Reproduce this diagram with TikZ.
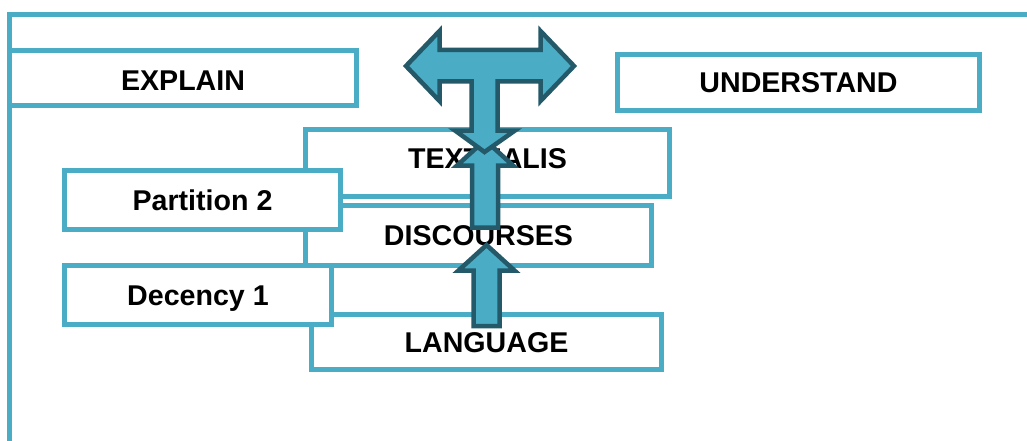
\documentclass[tikz,border=0pt]{standalone}
\usepackage{fontspec}
\setmainfont{Liberation Sans}
\definecolor{boxblue}{RGB}{75,172,198}
\definecolor{arrowdark}{RGB}{35,89,104}
\tikzset{
    conceptbox/.style={draw=boxblue, line width=5pt, fill=white, inner sep=0pt,
        font=\bfseries\fontsize{28.6}{34}\selectfont, text height=20pt, text depth=0pt},
    blockarrow/.style={draw=arrowdark, fill=boxblue, line width=4.5pt, line join=miter},
}
% block arrow pointing up, from #1 (bottom) to #2 (tip)
\newcommand{\blockup}[2]{
    \draw[blockarrow] ([xshift=-13pt]#1) -- ([xshift=-13pt,yshift=-25.5pt]#2)
        -- ([xshift=-28pt,yshift=-25.5pt]#2) -- (#2)
        -- ([xshift=28pt,yshift=-25.5pt]#2) -- ([xshift=13pt,yshift=-25.5pt]#2)
        -- ([xshift=13pt]#1) -- cycle;
}

\begin{document}
\begin{tikzpicture}[x=1pt, y=-1pt]
    \useasboundingbox (0,0) rectangle (1027,441);

    % frame
    \draw[boxblue, line width=5pt] (1040,14.5) -- (9.5,14.5) -- (9.5,450);

    % boxes
    \node[conceptbox, minimum width=347pt, minimum height=54.5pt, text height=24.5pt] (explain) at (183,78.25) {EXPLAIN};
    \node[conceptbox, minimum width=362pt, minimum height=56.5pt] (understand) at (798.5,82.75) {UNDERSTAND};
    \node[conceptbox, minimum width=364pt, minimum height=67pt, text depth=9pt] (textualis) at (487.5,162.5) {TEXTUALIS};
    \node[conceptbox, minimum width=346pt, minimum height=60pt] (discourses) at (478.5,235.5) {DISCOURSES};
    \node[conceptbox, minimum width=350pt, minimum height=55pt] (language) at (486.5,342) {LANGUAGE};
    \node[conceptbox, minimum width=276pt, minimum height=59pt] (partition) at (202.5,200) {Partition 2};
    \node[conceptbox, minimum width=267pt, minimum height=59pt] (decency) at (198,295) {Decency 1};

    % arrow ends
    \coordinate (discBot) at (485,227.5);
    \coordinate (textTip) at (485,140);
    \coordinate (langBot) at (486.5,326);
    \coordinate (discTip) at (486.5,245);
    \coordinate (downTip) at (484.5,152);

    % up arrows
    \blockup{discBot}{textTip}
    \blockup{langBot}{discTip}

    % double arrow with down arrow
    \begin{scope}[shift={(downTip)}]
        \draw[blockarrow] (-78.5,-86) -- (-45,-121) -- (-45,-102) -- (56,-102) -- (56,-121)
            -- (89.5,-86) -- (56,-51) -- (56,-70.5) -- (13,-70.5) -- (13,-21.5)
            -- (30.5,-21.5) -- (0,0) -- (-29.5,-21.5) -- (-13,-21.5) -- (-13,-70.5)
            -- (-45,-70.5) -- (-45,-51) -- cycle;
    \end{scope}

\end{tikzpicture}
\end{document}
